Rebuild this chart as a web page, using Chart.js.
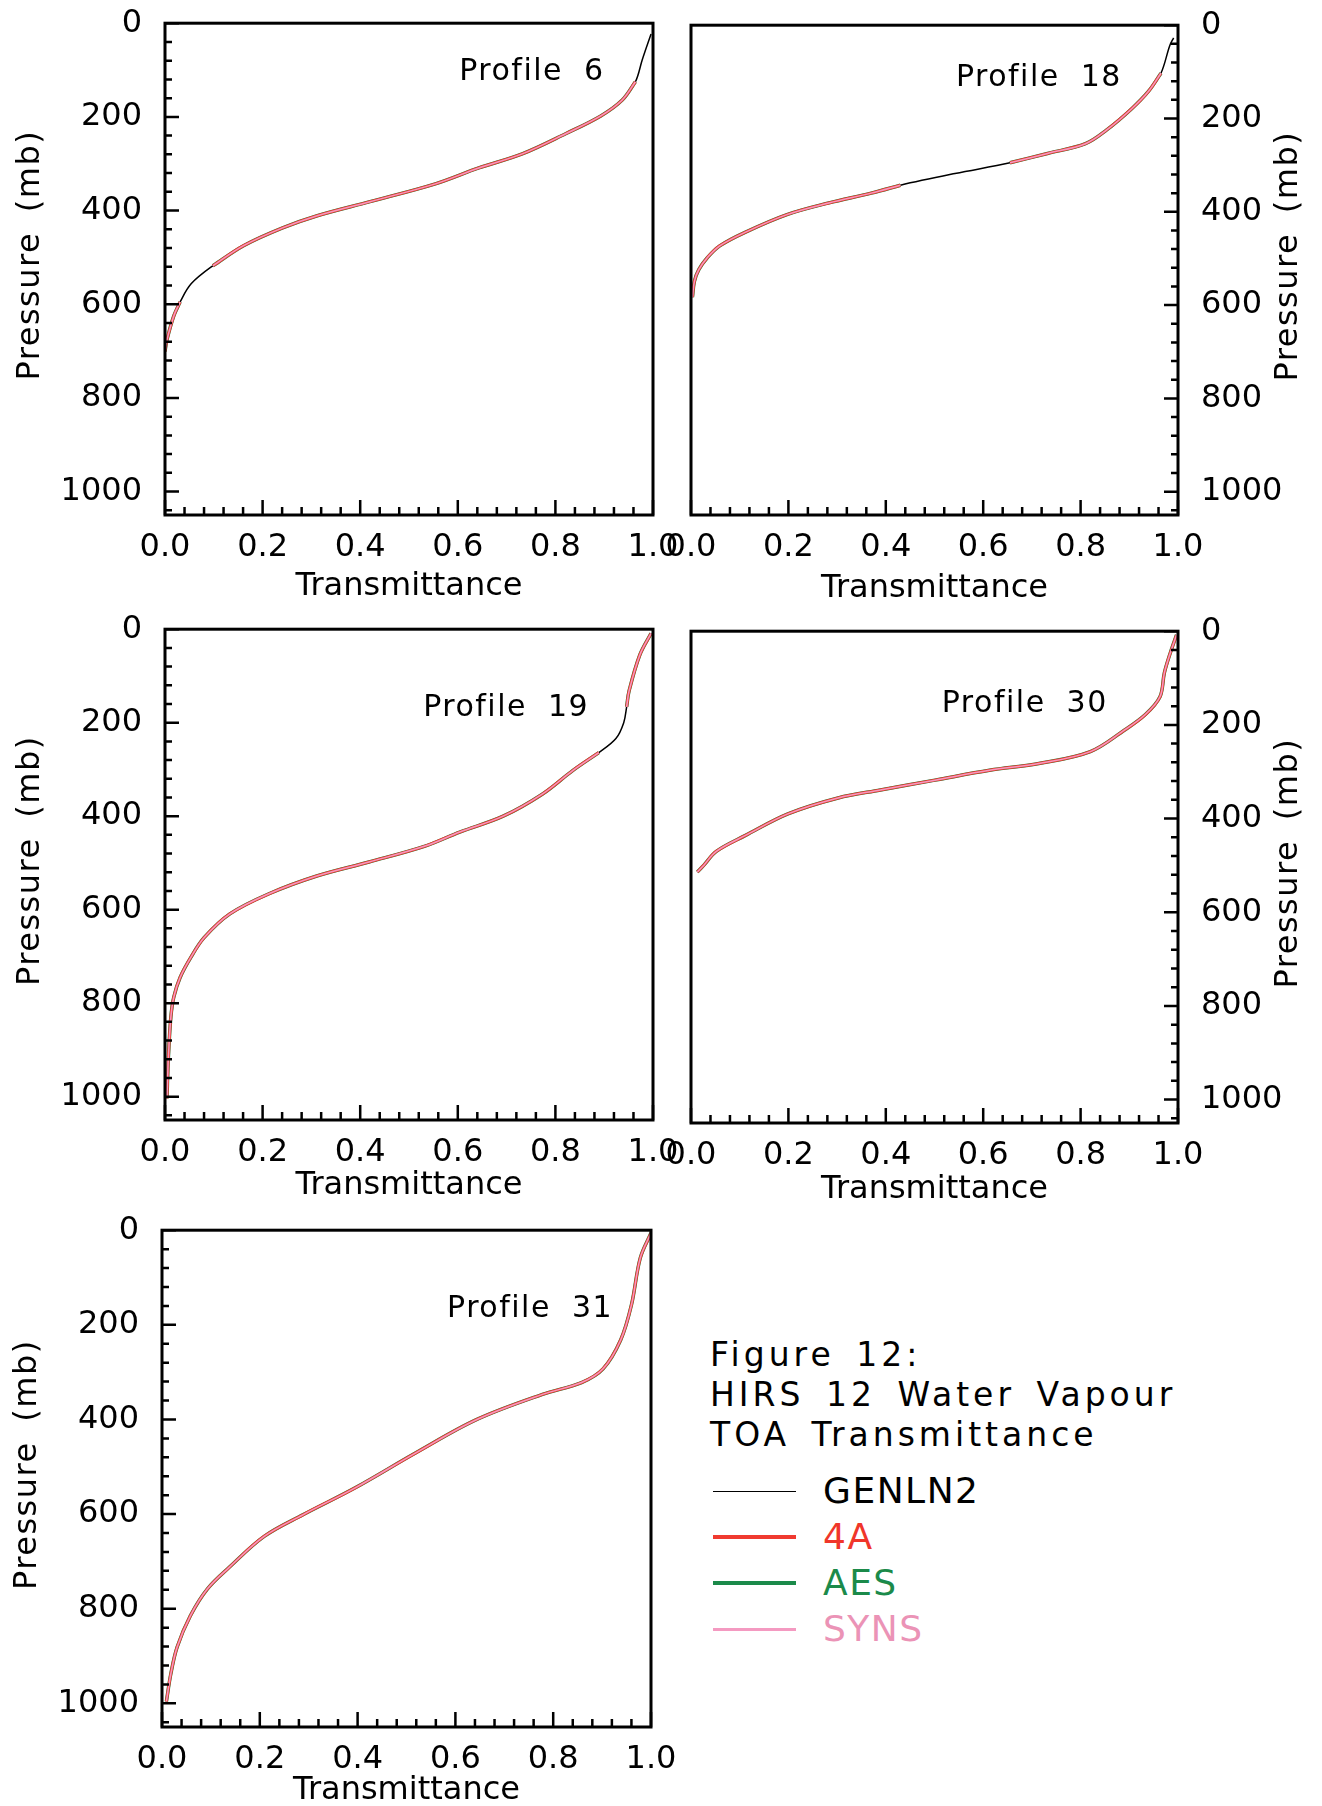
<!DOCTYPE html>
<html>
<head>
<meta charset="utf-8">
<script src="https://cdn.jsdelivr.net/npm/chart.js@4/dist/chart.umd.min.js"></script>
<style>
  html, body { margin: 0; padding: 0; background: #fff; }
  #page { position: relative; width: 1322px; height: 1806px; overflow: hidden; }
  #page canvas { position: absolute; }
  .caption { position: absolute; left: 710px; top: 1335px; font: 33px/40px "DejaVu Sans", sans-serif;
    letter-spacing: 4px; word-spacing: 7px; white-space: nowrap; color: #000; }
  .legend { position: absolute; left: 713px; top: 1468px; font: 36px/46px "DejaVu Sans", sans-serif;
    letter-spacing: 1.5px; white-space: nowrap; }
  .legend .row { display: flex; align-items: center; height: 46px; }
  .legend .swatch { display: inline-block; width: 83px; height: 0; margin-right: 27px; }
</style>
</head>
<body>
<div id="page"></div>
<script>
"use strict";

// Серии и подписи
const seriesNames = ["GENLN2", "4A", "AES", "SYNS"];
const captionLines = ["Figure 12:", "HIRS 12 Water Vapour", "TOA Transmittance"];
const transTicks = [0, 0.2, 0.4, 0.6, 0.8, 1.0];
const pressureTicks = [0, 200, 400, 600, 800, 1000];

// Profile 6 (null = линия модели не видна, только GENLN2)
const p6Pressure = [701, 676, 625, 595, 556, 518, 475, 437, 411, 381, 343, 309, 279, 236, 198, 164, 125, 78, 23];
const p6Genln2 = [0.000, 0.004, 0.018, 0.031, 0.054, 0.098, 0.161, 0.241, 0.312, 0.420, 0.554, 0.643, 0.732, 0.821, 0.893, 0.937, 0.964, 0.978, 0.996];
const p6FourA  = [0.000, 0.004, 0.018, 0.031, null, 0.098, 0.161, 0.241, 0.312, 0.420, 0.554, 0.643, 0.732, 0.821, 0.893, 0.937, 0.964, null, null];
const p6Aes    = [0.000, 0.004, 0.018, 0.031, null, 0.098, 0.161, 0.241, 0.312, 0.420, 0.554, 0.643, 0.732, 0.821, 0.893, 0.937, 0.964, null, null];
const p6Syns   = [0.000, 0.004, 0.018, 0.031, null, 0.098, 0.161, 0.241, 0.312, 0.420, 0.554, 0.643, 0.732, 0.821, 0.893, 0.937, 0.964, null, null];

// Profile 18
const p18Pressure = [583, 549, 524, 499, 473, 444, 406, 381, 360, 343, 318, 295, 275, 254, 225, 179, 141, 103, 44, 27];
const p18Genln2 = [0.003, 0.007, 0.016, 0.033, 0.059, 0.111, 0.197, 0.283, 0.370, 0.430, 0.542, 0.655, 0.732, 0.810, 0.853, 0.905, 0.940, 0.965, 0.983, 0.991];
const p18FourA  = [0.003, 0.007, 0.016, 0.033, 0.059, 0.111, 0.197, 0.283, 0.370, 0.430, null, 0.655, 0.732, 0.810, 0.853, 0.905, 0.940, 0.965, null, null];
const p18Aes    = [0.003, 0.007, 0.016, 0.033, 0.059, 0.111, 0.197, 0.283, 0.370, 0.430, null, 0.655, 0.732, 0.810, 0.853, 0.905, 0.940, 0.965, null, null];
const p18Syns   = [0.003, 0.007, 0.016, 0.033, 0.059, 0.111, 0.197, 0.283, 0.370, 0.430, null, 0.655, 0.732, 0.810, 0.853, 0.905, 0.940, 0.965, null, null];

// Profile 19
const p19Pressure = [1004, 915, 830, 787, 745, 702, 660, 609, 566, 528, 498, 464, 434, 400, 353, 302, 264, 234, 200, 166, 132, 55, 9];
const p19Genln2 = [0.004, 0.007, 0.012, 0.018, 0.031, 0.053, 0.080, 0.133, 0.213, 0.311, 0.418, 0.533, 0.604, 0.693, 0.773, 0.836, 0.889, 0.924, 0.940, 0.946, 0.951, 0.973, 0.996];
const p19FourA  = [0.004, 0.007, 0.012, 0.018, 0.031, 0.053, 0.080, 0.133, 0.213, 0.311, 0.418, 0.533, 0.604, 0.693, 0.773, 0.836, 0.889, null, null, 0.946, 0.951, 0.973, 0.996];
const p19Aes    = [0.004, 0.007, 0.012, 0.018, 0.031, 0.053, 0.080, 0.133, 0.213, 0.311, 0.418, 0.533, 0.604, 0.693, 0.773, 0.836, 0.889, null, null, 0.946, 0.951, 0.973, 0.996];
const p19Syns   = [0.004, 0.007, 0.012, 0.018, 0.031, 0.053, 0.080, 0.133, 0.213, 0.311, 0.418, 0.533, 0.604, 0.693, 0.773, 0.836, 0.889, null, null, 0.946, 0.951, 0.973, 0.996];

// Profile 30
const p30Pressure = [514, 500, 470, 436, 390, 356, 339, 318, 297, 282, 257, 212, 178, 140, 89, 47, 8];
const p30Genln2 = [0.013, 0.026, 0.052, 0.112, 0.199, 0.302, 0.389, 0.501, 0.613, 0.717, 0.820, 0.889, 0.933, 0.963, 0.972, 0.984, 0.997];
const p30FourA  = [0.013, 0.026, 0.052, 0.112, 0.199, 0.302, 0.389, 0.501, 0.613, 0.717, 0.820, 0.889, 0.933, 0.963, 0.972, 0.984, 0.997];
const p30Aes    = [0.013, 0.026, 0.052, 0.112, 0.199, 0.302, 0.389, 0.501, 0.613, 0.717, 0.820, 0.889, 0.933, 0.963, 0.972, 0.984, 0.997];
const p30Syns   = [0.013, 0.026, 0.052, 0.112, 0.199, 0.302, 0.389, 0.501, 0.613, 0.717, 0.820, 0.889, 0.933, 0.963, 0.972, 0.984, 0.997];

// Profile 31
const p31Pressure = [996, 938, 881, 815, 758, 712, 647, 601, 544, 470, 400, 347, 322, 293, 232, 158, 59, 6];
const p31Genln2 = [0.009, 0.018, 0.031, 0.058, 0.093, 0.138, 0.209, 0.289, 0.396, 0.520, 0.644, 0.778, 0.858, 0.902, 0.938, 0.960, 0.978, 1.000];
const p31FourA  = [0.009, 0.018, 0.031, 0.058, 0.093, 0.138, 0.209, 0.289, 0.396, 0.520, 0.644, 0.778, 0.858, 0.902, 0.938, 0.960, 0.978, 1.000];
const p31Aes    = [0.009, 0.018, 0.031, 0.058, 0.093, 0.138, 0.209, 0.289, 0.396, 0.520, 0.644, 0.778, 0.858, 0.902, 0.938, 0.960, 0.978, 1.000];
const p31Syns   = [0.009, 0.018, 0.031, 0.058, 0.093, 0.138, 0.209, 0.289, 0.396, 0.520, 0.644, 0.778, 0.858, 0.902, 0.938, 0.960, 0.978, 1.000];

// Оформление
const FONT = '"DejaVu Sans", sans-serif';
const lineColors = ["#000000", "#f03a30", "#1b8a4a", "#f49ac1"];
const textColors = ["#000000", "#f0362a", "#1b8a4a", "#eb93b6"];
const lineWidths = [1.5, 3, 3.5, 1.5];
const drawOrder = [3, 1, 2, 0];          // меньше = выше
const legendWidths = [1.5, 4, 4, 3];

// Панели: рамка графика в пикселях страницы [left, top, right, bottom],
// titleGap — расстояние от рамки до подписи «Transmittance»
const panels = [
  { name: "Profile 6",  box: [165, 23, 653, 515],   side: "left",  label: [0.603, 104], titleGap: 72,
    pressure: p6Pressure,  series: [p6Genln2, p6FourA, p6Aes, p6Syns] },
  { name: "Profile 18", box: [691, 25, 1178, 515],  side: "right", label: [0.544, 113], titleGap: 74,
    pressure: p18Pressure, series: [p18Genln2, p18FourA, p18Aes, p18Syns] },
  { name: "Profile 19", box: [165, 629, 653, 1120], side: "left",  label: [0.529, 170], titleGap: 66,
    pressure: p19Pressure, series: [p19Genln2, p19FourA, p19Aes, p19Syns] },
  { name: "Profile 30", box: [691, 631, 1178, 1123], side: "right", label: [0.515, 155], titleGap: 67,
    pressure: p30Pressure, series: [p30Genln2, p30FourA, p30Aes, p30Syns] },
  { name: "Profile 31", box: [162, 1230, 651, 1727], side: "left",  label: [0.583, 168], titleGap: 64,
    pressure: p31Pressure, series: [p31Genln2, p31FourA, p31Aes, p31Syns] },
];

const $ = (id) => document.getElementById(id);

// Рамка, внутренние засечки, подпись профиля и ось давления
const frameAndTicks = {
  id: "frameAndTicks",
  afterDraw(chart, args, opts) {
    const { ctx, chartArea: a, scales: { x, y } } = chart;
    ctx.save();
    ctx.strokeStyle = "#000";
    ctx.lineWidth = 3;
    ctx.strokeRect(a.left, a.top, a.right - a.left, a.bottom - a.top);

    ctx.lineWidth = 2.5;
    ctx.beginPath();
    for (let i = 0; i <= 25; i++) {
      const px = x.getPixelForValue(i * 0.04);
      const len = i % 5 === 0 ? 15 : 8;
      ctx.moveTo(px, a.bottom);
      ctx.lineTo(px, a.bottom - len);
    }
    const edge = opts.side === "left" ? a.left : a.right;
    const dir = opts.side === "left" ? 1 : -1;
    for (let v = 0; v <= 1050; v += 40) {
      const py = y.getPixelForValue(v);
      const len = v % 200 === 0 ? 14 : 7;
      ctx.moveTo(edge, py);
      ctx.lineTo(edge + dir * len, py);
    }
    ctx.stroke();

    ctx.fillStyle = "#000";
    ctx.letterSpacing = "1.5px";
    ctx.wordSpacing = "10px";
    ctx.font = "30px " + FONT;
    ctx.textAlign = "left";
    ctx.textBaseline = "middle";
    ctx.fillText(opts.name, x.getPixelForValue(opts.label[0]), y.getPixelForValue(opts.label[1]));

    ctx.font = "32px " + FONT;
    ctx.wordSpacing = "8px";
    ctx.textAlign = "center";
    const tx = opts.side === "left" ? a.left - 134 : a.right + 111;
    ctx.translate(tx, (a.top + a.bottom) / 2 - 14);
    ctx.rotate(-Math.PI / 2);
    ctx.fillText("Pressure (mb)", 0, 0);
    ctx.restore();
  },
};

function makePanel(panel) {
  const [l, t, r, b] = panel.box;
  const yWidth = panel.side === "left" ? 160 : 130;
  const padL = panel.side === "left" ? 5 : 45;
  const padR = panel.side === "left" ? 45 : 0;
  const padB = 5, xHeight = 95;
  // верхний запас: половина подписи «0» + отступ подписей (считает сам Chart.js)
  const topRoom = 42.2;

  const canvas = document.createElement("canvas");
  const w = (r - l) + yWidth + padL + padR;
  const h = Math.round((b - t) + topRoom + padB + xHeight);
  canvas.width = w; canvas.height = h;
  canvas.style.width = w + "px";
  canvas.style.height = h + "px";
  $("page").appendChild(canvas);

  const tickFont = { family: FONT, size: 32 };
  const chart = new Chart(canvas, {
    type: "scatter",
    data: {
      datasets: seriesNames.map((name, i) => ({
        label: name,
        data: panel.pressure.map((p, k) => {
          const v = panel.series[i][k];
          return { x: v === null ? null : v, y: v === null ? null : p };
        }),
        showLine: true,
        spanGaps: false,
        borderColor: lineColors[i],
        borderWidth: lineWidths[i],
        pointRadius: 0,
        tension: 0.35,
        order: drawOrder[i],
      })),
    },
    options: {
      responsive: false,
      animation: false,
      events: [],
      layout: { padding: { left: padL, right: padR, top: 0, bottom: padB } },
      plugins: {
        legend: { display: false },
        tooltip: { enabled: false },
        frameAndTicks: { side: panel.side, name: panel.name, label: panel.label },
      },
      scales: {
        x: {
          type: "linear", min: 0, max: 1,
          afterBuildTicks: (s) => { s.ticks = transTicks.map((v) => ({ value: v })); },
          afterFit: (s) => { s.height = xHeight; },
          grid: { display: false, drawTicks: false },
          border: { display: false },
          ticks: { padding: 13, font: tickFont, color: "#000", maxRotation: 0, autoSkip: false,
            callback: (v) => Number(v).toFixed(1) },
          title: { display: true, text: "Transmittance", color: "#000",
            font: { family: FONT, size: 32 },
            padding: { top: 0, bottom: xHeight - 19.2 - panel.titleGap } },
        },
        y: {
          type: "linear", position: panel.side, reverse: true, min: 0, max: 1050,
          afterBuildTicks: (s) => { s.ticks = pressureTicks.map((v) => ({ value: v })); },
          afterFit: (s) => { s.width = yWidth; },
          grid: { display: false, drawTicks: false },
          border: { display: false },
          ticks: { padding: 23, font: tickFont, color: "#000", autoSkip: false,
            callback: (v) => String(v) },
        },
      },
    },
    plugins: [frameAndTicks],
  });

  // ставим холст так, чтобы область графика легла на рамку панели
  canvas.style.left = (l - chart.chartArea.left) + "px";
  canvas.style.top = (t - chart.chartArea.top) + "px";
  return chart;
}

function buildCaption() {
  const cap = document.createElement("div");
  cap.className = "caption";
  captionLines.forEach((t) => {
    const d = document.createElement("div");
    d.textContent = t;
    cap.appendChild(d);
  });
  $("page").appendChild(cap);

  const leg = document.createElement("div");
  leg.className = "legend";
  seriesNames.forEach((name, i) => {
    const row = document.createElement("div");
    row.className = "row";
    const sw = document.createElement("span");
    sw.className = "swatch";
    sw.style.borderTop = legendWidths[i] + "px solid " + lineColors[i];
    const tx = document.createElement("span");
    tx.textContent = name;
    tx.style.color = textColors[i];
    row.appendChild(sw);
    row.appendChild(tx);
    leg.appendChild(row);
  });
  $("page").appendChild(leg);
}

panels.forEach(makePanel);
buildCaption();
</script>
</body>
</html>
